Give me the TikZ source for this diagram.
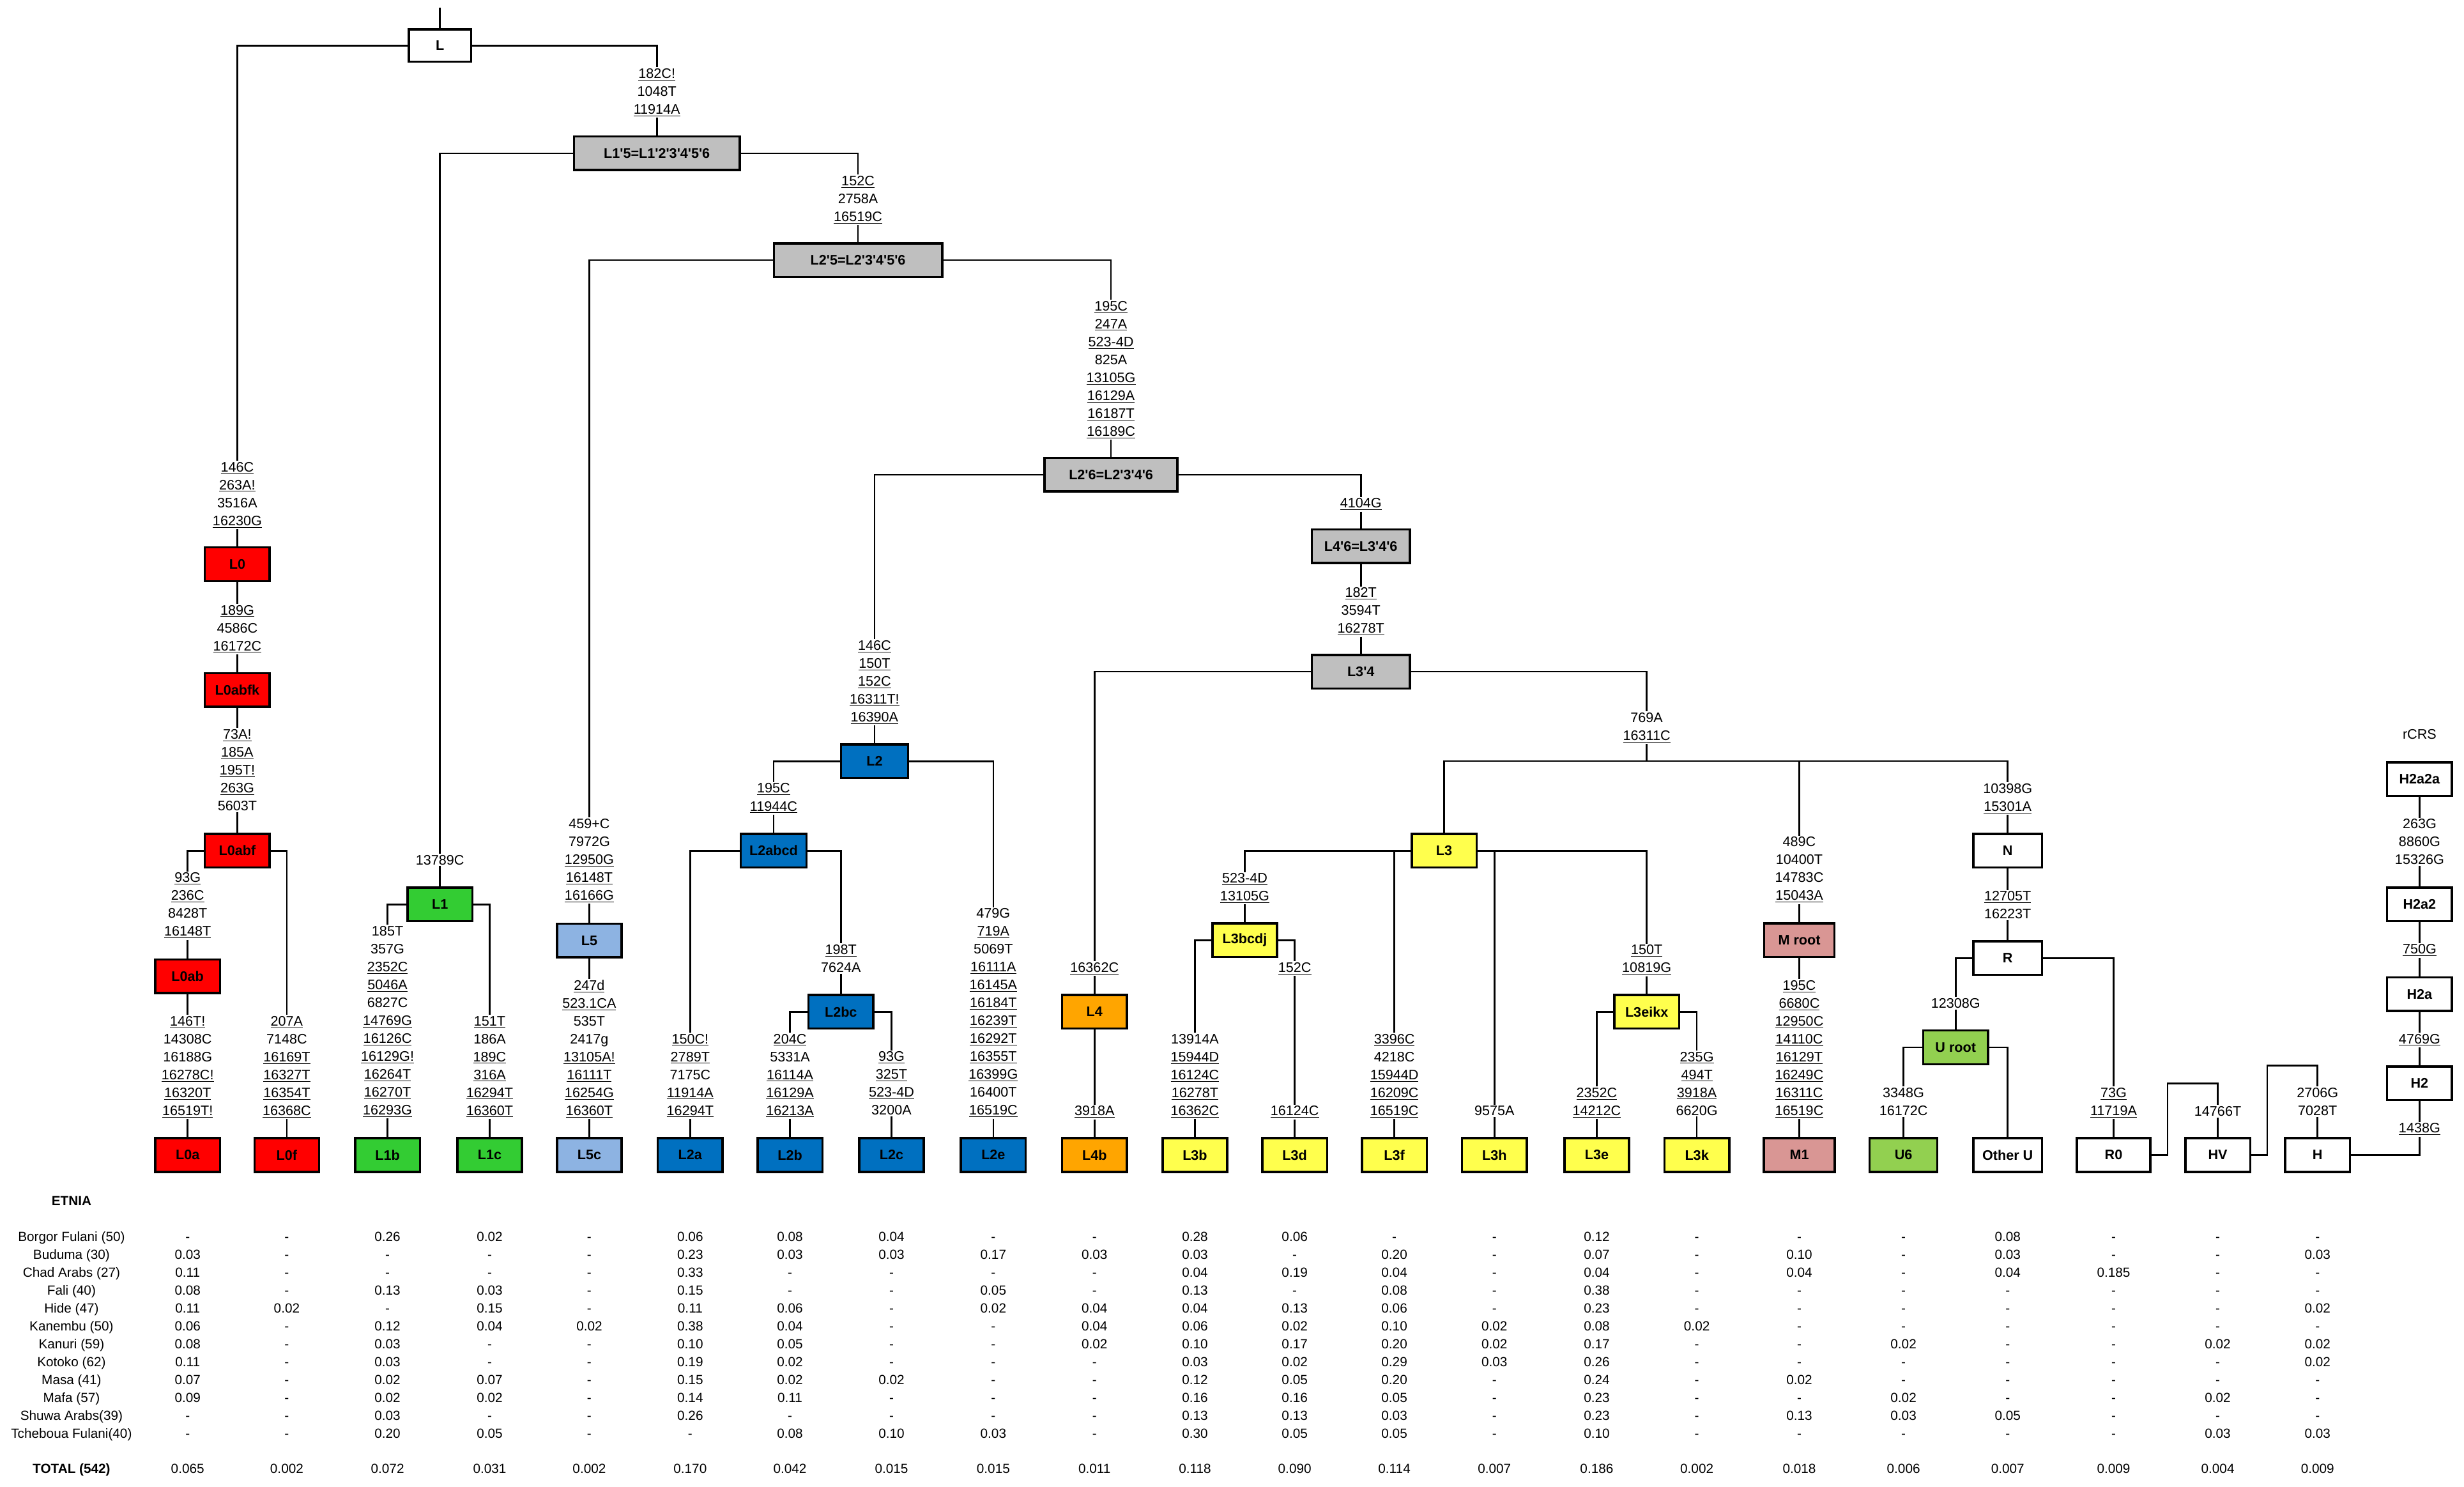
\documentclass[tikz,border=0pt]{standalone}
\usepackage{fontspec}
\newfontfamily\arialfont{Liberation Sans}
\usepackage{tikz}

\definecolor{redL0}{HTML}{FF0000}
\definecolor{greenL1}{HTML}{33CC33}
\definecolor{blueL5}{HTML}{8DB3E2}
\definecolor{blueL2}{HTML}{0070C0}
\definecolor{orangeL4}{HTML}{FFA500}
\definecolor{yellowL3}{HTML}{FFFF4D}
\definecolor{pinkM}{HTML}{D99694}
\definecolor{greenU}{HTML}{92D050}
\definecolor{grayroot}{HTML}{BFBFBF}

\tikzset{
  hg/.style={draw, line width=2pt, fill=white, minimum width=2.06cm, minimum height=1.07cm,
    inner sep=0pt, font=\arialfont\fontsize{12.5}{15}\selectfont\bfseries},
  mut/.style={anchor=north, yshift=0.194cm, align=center, inner sep=1pt,
    font=\arialfont\fontsize{12.5}{16.2}\selectfont},
  cell/.style={anchor=base, yshift=-0.15cm, inner sep=0pt, font=\arialfont\fontsize{12}{14}\selectfont},
  rowhead/.style={cell, font=\arialfont\fontsize{12}{14}\selectfont\bfseries},
  link/.style={line width=1.5pt},
}

\begin{document}
\begin{tikzpicture}[x=0.05cm,y=-0.05cm]
\useasboundingbox (0,0) rectangle (1568,946);

% haplogroup boxes
\node[hg, minimum width=1.98cm, minimum height=1.03cm] (L) at (280,29) {L};
\node[hg, fill=grayroot, minimum width=5.28cm] (L15) at (418,97.5) {L1'5=L1'2'3'4'5'6};
\node[hg, fill=grayroot, minimum width=5.355cm] (L25) at (546,165.5) {L2'5=L2'3'4'5'6};
\node[hg, fill=grayroot, minimum width=4.23cm] (L26) at (707,302) {L2'6=L2'3'4'6};
\node[hg, fill=grayroot, minimum width=3.13cm] (L46) at (866,347.5) {L4'6=L3'4'6};
\node[hg, fill=grayroot, minimum width=3.13cm] (L34) at (866,427.3) {L3'4};

\node[hg, fill=redL0] (L0) at (151,359) {L0};
\node[hg, fill=redL0] (L0abfk) at (151,439) {L0abfk};
\node[hg, fill=redL0] (L0abf) at (151,541.2) {L0abf};
\node[hg, fill=redL0] (L0ab) at (119.4,621) {L0ab};
\node[hg, fill=redL0] (L0a) at (119.4,734.8) {L0a};
\node[hg, fill=redL0] (L0f) at (182.5,734.8) {L0f};

\node[hg, fill=greenL1] (L1) at (280,575.4) {L1};
\node[hg, fill=greenL1] (L1b) at (246.6,734.8) {L1b};
\node[hg, fill=greenL1] (L1c) at (311.6,734.8) {L1c};

\node[hg, fill=blueL5] (L5) at (375,598.3) {L5};
\node[hg, fill=blueL5] (L5c) at (375,734.8) {L5c};

\node[hg, fill=blueL2, minimum width=2.13cm] (L2) at (556.5,484.3) {L2};
\node[hg, fill=blueL2, minimum width=2.1cm] (L2abcd) at (492.3,541.2) {L2abcd};
\node[hg, fill=blueL2] (L2bc) at (535.1,643.7) {L2bc};
\node[hg, fill=blueL2] (L2a) at (439.2,734.8) {L2a};
\node[hg, fill=blueL2] (L2b) at (502.7,734.8) {L2b};
\node[hg, fill=blueL2] (L2c) at (567.3,734.8) {L2c};
\node[hg, fill=blueL2] (L2e) at (632.1,734.8) {L2e};

\node[hg, fill=orangeL4] (L4) at (696.5,643.7) {L4};
\node[hg, fill=orangeL4] (L4b) at (696.5,734.8) {L4b};

\node[hg, fill=yellowL3] (L3) at (919,541.2) {L3};
\node[hg, fill=yellowL3] (L3bcdj) at (792.1,598.1) {L3bcdj};
\node[hg, fill=yellowL3] (L3eikx) at (1047.9,643.7) {L3eikx};
\node[hg, fill=yellowL3] (L3b) at (760.4,734.8) {L3b};
\node[hg, fill=yellowL3] (L3d) at (823.9,734.8) {L3d};
\node[hg, fill=yellowL3] (L3f) at (887.3,734.8) {L3f};
\node[hg, fill=yellowL3] (L3h) at (951,734.8) {L3h};
\node[hg, fill=yellowL3] (L3e) at (1016.1,734.8) {L3e};
\node[hg, fill=yellowL3] (L3k) at (1079.8,734.8) {L3k};

\node[hg, fill=pinkM, minimum width=2.23cm] (Mroot) at (1145,598.1) {M root};
\node[hg, fill=pinkM, minimum width=2.255cm] (M1) at (1145,734.8) {M1};

\node[hg, minimum width=2.18cm] (N) at (1277.6,541.2) {N};
\node[hg, minimum width=2.18cm] (R) at (1277.6,609.5) {R};
\node[hg, fill=greenU] (Uroot) at (1244.5,666.3) {U root};
\node[hg, fill=greenU, minimum width=2.16cm] (U6) at (1211.3,734.8) {U6};
\node[hg, minimum width=2.18cm] (OtherU) at (1277.6,734.8) {Other U};
\node[hg, minimum width=2.33cm] (R0) at (1345,734.8) {R0};
\node[hg] (HV) at (1411.3,734.8) {HV};
\node[hg] (H) at (1474.8,734.8) {H};
\node[hg] (H2) at (1539.7,689.2) {H2};
\node[hg] (H2a) at (1539.7,632.4) {H2a};
\node[hg] (H2a2) at (1539.7,575.3) {H2a2};
\node[hg] (H2a2a) at (1539.7,495.7) {H2a2a};
\node[font=\arialfont\fontsize{12.5}{15}\selectfont] (rcrs) at (1539.7,467.3) {rCRS};

% mutations on the branches
\node[mut] (mL15) at (418,46.7) {\underline{182C!}\\1048T\\\underline{11914A}};
\node[mut] (mL0) at (151,297) {\underline{146C}\\\underline{263A!}\\3516A\\\underline{16230G}};
\node[mut] (mL0abfk) at (151,388) {\underline{189G}\\4586C\\\underline{16172C}};
\node[mut] (mL0abf) at (151,467.1) {\underline{73A!}\\\underline{185A}\\\underline{195T!}\\\underline{263G}\\5603T};
\node[mut] (mL0ab) at (119.4,558.3) {\underline{93G}\\\underline{236C}\\8428T\\\underline{16148T}};
\node[mut] (mL0a) at (119.4,649.5) {\underline{146T!}\\14308C\\16188G\\\underline{16278C!}\\\underline{16320T}\\\underline{16519T!}};
\node[mut] (mL0f) at (182.5,649.5) {\underline{207A}\\7148C\\\underline{16169T}\\\underline{16327T}\\\underline{16354T}\\\underline{16368C}};
\node[mut] (mL1) at (280,547) {13789C};
\node[mut] (mL1b) at (246.6,592.3) {185T\\357G\\\underline{2352C}\\\underline{5046A}\\6827C\\\underline{14769G}\\\underline{16126C}\\\underline{16129G!}\\\underline{16264T}\\\underline{16270T}\\\underline{16293G}};
\node[mut] (mL1c) at (311.6,649.5) {\underline{151T}\\186A\\\underline{189C}\\\underline{316A}\\\underline{16294T}\\\underline{16360T}};
\node[mut] (mL25) at (546,115) {\underline{152C}\\2758A\\\underline{16519C}};
\node[mut] (mL5) at (375,524) {459+C\\7972G\\\underline{12950G}\\\underline{16148T}\\\underline{16166G}};
\node[mut] (mL5c) at (375,626.5) {\underline{247d}\\\underline{523.1CA}\\535T\\2417g\\\underline{13105A!}\\\underline{16111T}\\\underline{16254G}\\\underline{16360T}};
\node[mut] (mL26) at (707,194.6) {\underline{195C}\\\underline{247A}\\\underline{523-4D}\\825A\\\underline{13105G}\\\underline{16129A}\\\underline{16187T}\\\underline{16189C}};
\node[mut] (mL2) at (556.5,410.5) {\underline{146C}\\\underline{150T}\\\underline{152C}\\\underline{16311T!}\\\underline{16390A}};
\node[mut] (mL2abcd) at (492.3,501.4) {\underline{195C}\\\underline{11944C}};
\node[mut] (mL2a) at (439.2,660.8) {\underline{150C!}\\\underline{2789T}\\7175C\\\underline{11914A}\\\underline{16294T}};
\node[mut] (mL2bc) at (535.1,604.1) {\underline{198T}\\7624A};
\node[mut] (mL2b) at (502.7,660.8) {\underline{204C}\\5331A\\\underline{16114A}\\\underline{16129A}\\\underline{16213A}};
\node[mut] (mL2c) at (567.3,672.1) {\underline{93G}\\\underline{325T}\\\underline{523-4D}\\3200A};
\node[mut] (mL2e) at (632.1,581) {479G\\\underline{719A}\\5069T\\\underline{16111A}\\\underline{16145A}\\\underline{16184T}\\\underline{16239T}\\\underline{16292T}\\\underline{16355T}\\\underline{16399G}\\16400T\\\underline{16519C}};
\node[mut] (mL46) at (866,320) {\underline{4104G}};
\node[mut] (mL34) at (866,376.9) {\underline{182T}\\3594T\\\underline{16278T}};
\node[mut] (mL4) at (696.5,615.4) {\underline{16362C}};
\node[mut] (mL4b) at (696.5,706.6) {\underline{3918A}};
\node[mut] (mL3) at (1047.9,456.5) {769A\\\underline{16311C}};
\node[mut] (mL3bcdj) at (792.1,558.6) {\underline{523-4D}\\\underline{13105G}};
\node[mut] (mL3b) at (760.4,661) {13914A\\\underline{15944D}\\\underline{16124C}\\\underline{16278T}\\\underline{16362C}};
\node[mut] (mL3da) at (823.9,615.4) {\underline{152C}};
\node[mut] (mL3db) at (823.9,706.6) {\underline{16124C}};
\node[mut] (mL3f) at (887.3,661) {\underline{3396C}\\4218C\\\underline{15944D}\\\underline{16209C}\\\underline{16519C}};
\node[mut] (mL3h) at (951,706.6) {9575A};
\node[mut] (mL3eikx) at (1047.9,604.2) {\underline{150T}\\\underline{10819G}};
\node[mut] (mL3e) at (1016.1,695) {\underline{2352C}\\\underline{14212C}};
\node[mut] (mL3k) at (1079.8,672.2) {\underline{235G}\\\underline{494T}\\\underline{3918A}\\6620G};
\node[mut] (mM) at (1145,535.5) {489C\\10400T\\14783C\\\underline{15043A}};
\node[mut] (mM1) at (1145,626.8) {\underline{195C}\\\underline{6680C}\\\underline{12950C}\\\underline{14110C}\\\underline{16129T}\\\underline{16249C}\\\underline{16311C}\\\underline{16519C}};
\node[mut] (mN) at (1277.6,501.5) {10398G\\\underline{15301A}};
\node[mut] (mR) at (1277.6,570) {\underline{12705T}\\16223T};
\node[mut] (mU) at (1244.5,638.2) {12308G};
\node[mut] (mU6) at (1211.3,695) {3348G\\16172C};
\node[mut] (mR0) at (1345,695) {\underline{73G}\\\underline{11719A}};
\node[mut] (mHV) at (1411.3,706.9) {14766T};
\node[mut] (mH) at (1474.8,695) {2706G\\7028T};
\node[mut] (mH2) at (1539.7,717.6) {\underline{1438G}};
\node[mut] (mH2a) at (1539.7,660.8) {\underline{4769G}};
\node[mut] (mH2a2) at (1539.7,603.8) {\underline{750G}};
\node[mut] (mH2a2a) at (1539.7,524.1) {263G\\8860G\\15326G};

\coordinate (top) at (280,5);
\coordinate (j3) at (1047.9,484.2);
\coordinate (kHV) at (1411.3,689.2);
\coordinate (kH) at (1474.8,677.8);

% branches
\draw[link] (top) -- (L.north);
\draw[link] (L.west) -| (mL0.north);
\draw[link] (mL0.south) -- (L0.north);
\draw[link] (L.east) -| (mL15.north);
\draw[link] (mL15.south) -- (L15.north);
\draw[link] (L0.south) -- (mL0abfk.north);
\draw[link] (mL0abfk.south) -- (L0abfk.north);
\draw[link] (L0abfk.south) -- (mL0abf.north);
\draw[link] (mL0abf.south) -- (L0abf.north);
\draw[link] (L0abf.west) -| (mL0ab.north);
\draw[link] (mL0ab.south) -- (L0ab.north);
\draw[link] (L0ab.south) -- (mL0a.north);
\draw[link] (mL0a.south) -- (L0a.north);
\draw[link] (L0abf.east) -| (mL0f.north);
\draw[link] (mL0f.south) -- (L0f.north);
\draw[link] (L15.west) -| (mL1.north);
\draw[link] (mL1.south) -- (L1.north);
\draw[link] (L1.west) -| (mL1b.north);
\draw[link] (mL1b.south) -- (L1b.north);
\draw[link] (L1.east) -| (mL1c.north);
\draw[link] (mL1c.south) -- (L1c.north);
\draw[link] (L15.east) -| (mL25.north);
\draw[link] (mL25.south) -- (L25.north);
\draw[link] (L25.west) -| (mL5.north);
\draw[link] (mL5.south) -- (L5.north);
\draw[link] (L5.south) -- (mL5c.north);
\draw[link] (mL5c.south) -- (L5c.north);
\draw[link] (L25.east) -| (mL26.north);
\draw[link] (mL26.south) -- (L26.north);
\draw[link] (L26.west) -| (mL2.north);
\draw[link] (mL2.south) -- (L2.north);
\draw[link] (L2.west) -| (mL2abcd.north);
\draw[link] (mL2abcd.south) -- (L2abcd.north);
\draw[link] (L2abcd.west) -| (mL2a.north);
\draw[link] (mL2a.south) -- (L2a.north);
\draw[link] (L2abcd.east) -| (mL2bc.north);
\draw[link] (mL2bc.south) -- (L2bc.north);
\draw[link] (L2bc.west) -| (mL2b.north);
\draw[link] (mL2b.south) -- (L2b.north);
\draw[link] (L2bc.east) -| (mL2c.north);
\draw[link] (mL2c.south) -- (L2c.north);
\draw[link] (L2.east) -| (mL2e.north);
\draw[link] (mL2e.south) -- (L2e.north);
\draw[link] (L26.east) -| (mL46.north);
\draw[link] (mL46.south) -- (L46.north);
\draw[link] (L46.south) -- (mL34.north);
\draw[link] (mL34.south) -- (L34.north);
\draw[link] (L34.west) -| (mL4.north);
\draw[link] (mL4.south) -- (L4.north);
\draw[link] (L4.south) -- (mL4b.north);
\draw[link] (mL4b.south) -- (L4b.north);
\draw[link] (L34.east) -| (mL3.north);
\draw[link] (mL3.south) -- (j3);
\draw[link] (j3) -| (L3.north);
\draw[link] (j3) -| (mM.north);
\draw[link] (j3) -| (mN.north);
\draw[link] (L3.west) -| (mL3bcdj.north);
\draw[link] (mL3bcdj.south) -- (L3bcdj.north);
\draw[link] (L3.west -| mL3f.north) -- (mL3f.north);
\draw[link] (mL3f.south) -- (L3f.north);
\draw[link] (L3.east) -| (mL3eikx.north);
\draw[link] (mL3eikx.south) -- (L3eikx.north);
\draw[link] (L3.east -| mL3h.north) -- (mL3h.north);
\draw[link] (mL3h.south) -- (L3h.north);
\draw[link] (L3bcdj.west) -| (mL3b.north);
\draw[link] (mL3b.south) -- (L3b.north);
\draw[link] (L3bcdj.east) -| (mL3da.north);
\draw[link] (mL3da.south) -- (mL3db.north);
\draw[link] (mL3db.south) -- (L3d.north);
\draw[link] (L3eikx.west) -| (mL3e.north);
\draw[link] (mL3e.south) -- (L3e.north);
\draw[link] (L3eikx.east) -| (mL3k.north);
\draw[link] (mL3k.south) -- (L3k.north);
\draw[link] (mM.south) -- (Mroot.north);
\draw[link] (Mroot.south) -- (mM1.north);
\draw[link] (mM1.south) -- (M1.north);
\draw[link] (mN.south) -- (N.north);
\draw[link] (N.south) -- (mR.north);
\draw[link] (mR.south) -- (R.north);
\draw[link] (R.west) -| (mU.north);
\draw[link] (mU.south) -- (Uroot.north);
\draw[link] (Uroot.west) -| (mU6.north);
\draw[link] (mU6.south) -- (U6.north);
\draw[link] (Uroot.east) -| (OtherU.north);
\draw[link] (R.east) -| (mR0.north);
\draw[link] (mR0.south) -- (R0.north);
\draw[link] (R0.east) -- ++(10.4,0) |- (kHV) -- (mHV.north);
\draw[link] (mHV.south) -- (HV.north);
\draw[link] (HV.east) -- ++(10.2,0) |- (kH) -- (mH.north);
\draw[link] (mH.south) -- (H.north);
\draw[link] (H.east) -| (mH2.south);
\draw[link] (mH2.north) -- (H2.south);
\draw[link] (H2.north) -- (mH2a.south);
\draw[link] (mH2a.north) -- (H2a.south);
\draw[link] (H2a.north) -- (mH2a2.south);
\draw[link] (mH2a2.north) -- (H2a2.south);
\draw[link] (H2a2.north) -- (mH2a2a.south);
\draw[link] (mH2a2a.north) -- (H2a2a.south);

% frequency table
\def\colx{{119.4,182.5,246.6,311.6,375,439.2,502.7,567.3,632.1,696.5,760.4,823.9,887.3,951,1016.1,1079.8,1145,1211.3,1277.6,1345,1411.3,1474.8}}
\node[rowhead] (etnia) at (45.5,764) {ETNIA};
\node[cell] (e1) at (45.5,786.6) {Borgor Fulani (50)};
\node[cell] (e2) at (45.5,798.2) {Buduma (30)};
\node[cell] (e3) at (45.5,809.4) {Chad Arabs (27)};
\node[cell] (e4) at (45.5,820.8) {Fali (40)};
\node[cell] (e5) at (45.5,832.1) {Hide (47)};
\node[cell] (e6) at (45.5,843.7) {Kanembu (50)};
\node[cell] (e7) at (45.5,855) {Kanuri (59)};
\node[cell] (e8) at (45.5,866.3) {Kotoko (62)};
\node[cell] (e9) at (45.5,877.6) {Masa (41)};
\node[cell] (e10) at (45.5,889) {Mafa (57)};
\node[cell] (e11) at (45.5,900.5) {Shuwa Arabs(39)};
\node[cell] (e12) at (45.5,912) {Tcheboua Fulani(40)};
\node[rowhead] (etot) at (45.5,934.3) {TOTAL (542)};

\foreach \v [count=\i from 0] in {-,-,0.26,0.02,-,0.06,0.08,0.04,-,-,0.28,0.06,-,-,0.12,-,-,-,0.08,-,-,-}
  {\pgfmathsetmacro\cx{\colx[\i]}\node[cell] (f1-\i) at (\cx,786.6) {\v};}
\foreach \v [count=\i from 0] in {0.03,-,-,-,-,0.23,0.03,0.03,0.17,0.03,0.03,-,0.20,-,0.07,-,0.10,-,0.03,-,-,0.03}
  {\pgfmathsetmacro\cx{\colx[\i]}\node[cell] (f2-\i) at (\cx,798.2) {\v};}
\foreach \v [count=\i from 0] in {0.11,-,-,-,-,0.33,-,-,-,-,0.04,0.19,0.04,-,0.04,-,0.04,-,0.04,0.185,-,-}
  {\pgfmathsetmacro\cx{\colx[\i]}\node[cell] (f3-\i) at (\cx,809.4) {\v};}
\foreach \v [count=\i from 0] in {0.08,-,0.13,0.03,-,0.15,-,-,0.05,-,0.13,-,0.08,-,0.38,-,-,-,-,-,-,-}
  {\pgfmathsetmacro\cx{\colx[\i]}\node[cell] (f4-\i) at (\cx,820.8) {\v};}
\foreach \v [count=\i from 0] in {0.11,0.02,-,0.15,-,0.11,0.06,-,0.02,0.04,0.04,0.13,0.06,-,0.23,-,-,-,-,-,-,0.02}
  {\pgfmathsetmacro\cx{\colx[\i]}\node[cell] (f5-\i) at (\cx,832.1) {\v};}
\foreach \v [count=\i from 0] in {0.06,-,0.12,0.04,0.02,0.38,0.04,-,-,0.04,0.06,0.02,0.10,0.02,0.08,0.02,-,-,-,-,-,-}
  {\pgfmathsetmacro\cx{\colx[\i]}\node[cell] (f6-\i) at (\cx,843.7) {\v};}
\foreach \v [count=\i from 0] in {0.08,-,0.03,-,-,0.10,0.05,-,-,0.02,0.10,0.17,0.20,0.02,0.17,-,-,0.02,-,-,0.02,0.02}
  {\pgfmathsetmacro\cx{\colx[\i]}\node[cell] (f7-\i) at (\cx,855) {\v};}
\foreach \v [count=\i from 0] in {0.11,-,0.03,-,-,0.19,0.02,-,-,-,0.03,0.02,0.29,0.03,0.26,-,-,-,-,-,-,0.02}
  {\pgfmathsetmacro\cx{\colx[\i]}\node[cell] (f8-\i) at (\cx,866.3) {\v};}
\foreach \v [count=\i from 0] in {0.07,-,0.02,0.07,-,0.15,0.02,0.02,-,-,0.12,0.05,0.20,-,0.24,-,0.02,-,-,-,-,-}
  {\pgfmathsetmacro\cx{\colx[\i]}\node[cell] (f9-\i) at (\cx,877.6) {\v};}
\foreach \v [count=\i from 0] in {0.09,-,0.02,0.02,-,0.14,0.11,-,-,-,0.16,0.16,0.05,-,0.23,-,-,0.02,-,-,0.02,-}
  {\pgfmathsetmacro\cx{\colx[\i]}\node[cell] (f10-\i) at (\cx,889) {\v};}
\foreach \v [count=\i from 0] in {-,-,0.03,-,-,0.26,-,-,-,-,0.13,0.13,0.03,-,0.23,-,0.13,0.03,0.05,-,-,-}
  {\pgfmathsetmacro\cx{\colx[\i]}\node[cell] (f11-\i) at (\cx,900.5) {\v};}
\foreach \v [count=\i from 0] in {-,-,0.20,0.05,-,-,0.08,0.10,0.03,-,0.30,0.05,0.05,-,0.10,-,-,-,-,-,0.03,0.03}
  {\pgfmathsetmacro\cx{\colx[\i]}\node[cell] (f12-\i) at (\cx,912) {\v};}
\foreach \v [count=\i from 0] in {0.065,0.002,0.072,0.031,0.002,0.170,0.042,0.015,0.015,0.011,0.118,0.090,0.114,0.007,0.186,0.002,0.018,0.006,0.007,0.009,0.004,0.009}
  {\pgfmathsetmacro\cx{\colx[\i]}\node[cell] (ftot-\i) at (\cx,934.3) {\v};}
\end{tikzpicture}
\end{document}
